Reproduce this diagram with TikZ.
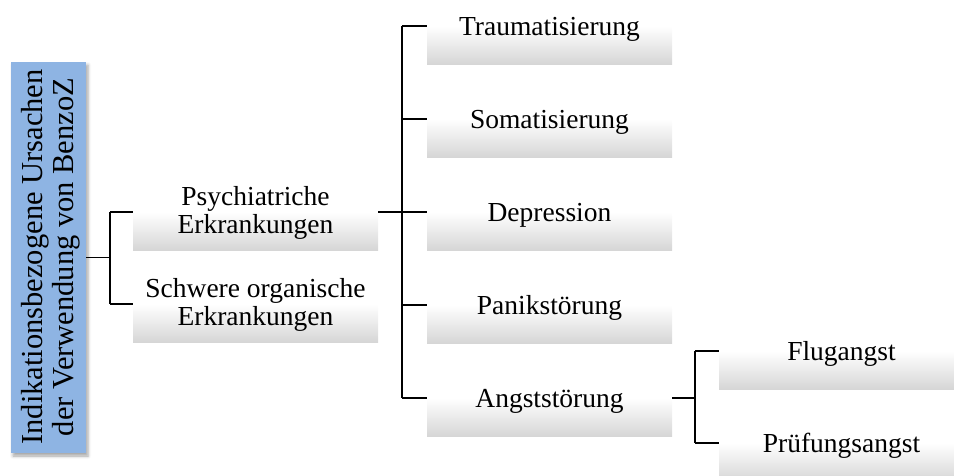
\documentclass[tikz,border=0pt]{standalone}
\usepackage{fontspec}
\setmainfont{Liberation Serif}
\usetikzlibrary{shadows.blur}
\definecolor{rootblue}{RGB}{142,180,227}
\definecolor{boxgrey}{RGB}{214,214,214}
\begin{document}
\begin{tikzpicture}[x=1pt,y=-1pt,
  rootbox/.style={rectangle, fill=rootblue, inner sep=0pt,
    minimum width=75pt, minimum height=391pt,
    blur shadow={shadow xshift=2pt, shadow yshift=-3pt,
      shadow blur radius=3pt, shadow opacity=35}},
  itembox/.style={rectangle, inner sep=0pt, draw=none,
    minimum width=245pt, minimum height=76pt,
    top color=white, bottom color=boxgrey, middle color=white},
  lbl/.style={font=\fontsize{27.5}{28.5}\selectfont, inner sep=0pt},
  onel/.style={lbl, anchor=base},
  twol/.style={lbl, anchor=center, align=center},
  link/.style={line width=1.1pt, black}]
\useasboundingbox (0,0) rectangle (954,475);

% root
\node[rootbox] (root) at (48.5,257.5) {};
\node[rotate=90, align=center, inner sep=0pt,
      font=\fontsize{30.5}{31}\selectfont] (roottext) at (51,257)
  {Indikationsbezogene Ursachen\\der Verwendung von BenzoZ};

% first level
\node[itembox] (psych)   at (255.5,212) {};
\node[itembox] (schwere) at (255.5,304) {};
\node[twol] (psychT)   at ([yshift=-1pt]psych.center)   {Psychiatriche\\Erkrankungen};
\node[twol] (schwereT) at ([yshift=-1pt]schwere.center) {Schwere organische\\Erkrankungen};

% second level
\node[itembox] (trauma) at (549.5,26)  {};
\node[itembox] (somat)  at (549.5,119) {};
\node[itembox] (depr)   at (549.5,212) {};
\node[itembox] (panik)  at (549.5,305) {};
\node[itembox] (angst)  at (549.5,398) {};
\node[onel] (traumaT) at ([yshift=-9pt]trauma.center) {Traumatisierung};
\node[onel] (somatT)  at ([yshift=-9pt]somat.center)  {Somatisierung};
\node[onel] (deprT)   at ([yshift=-9pt]depr.center)   {Depression};
\node[onel] (panikT)  at ([yshift=-9pt]panik.center)  {Panikstörung};
\node[onel] (angstT)  at ([yshift=-9pt]angst.center)  {Angststörung};

% third level
\node[itembox] (flug)  at (841.5,351) {};
\node[itembox] (pruef) at (841.5,443) {};
\node[onel] (flugT)  at ([yshift=-9pt]flug.center)  {Flugangst};
\node[onel] (pruefT) at ([yshift=-9pt]pruef.center) {Prüfungsangst};

% connectors
\coordinate (j1) at (110,257.5);
\draw[link] (root.east) -- (j1);
\draw[link] (j1 |- psych.west) -- (j1 |- schwere.west);
\draw[link] (j1 |- psych.west) -- (psych.west);
\draw[link] (j1 |- schwere.west) -- (schwere.west);

\coordinate (j2) at (402,212);
\draw[link] (psych.east) -- (j2);
\draw[link] (j2 |- trauma.west) -- (j2 |- angst.west);
\foreach \n in {trauma,somat,depr,panik,angst}
  \draw[link] (j2 |- \n.west) -- (\n.west);

\coordinate (j3) at (695,398);
\draw[link] (angst.east) -- (j3);
\draw[link] (j3 |- flug.west) -- (j3 |- pruef.west);
\draw[link] (j3 |- flug.west) -- (flug.west);
\draw[link] (j3 |- pruef.west) -- (pruef.west);
\end{tikzpicture}
\end{document}
